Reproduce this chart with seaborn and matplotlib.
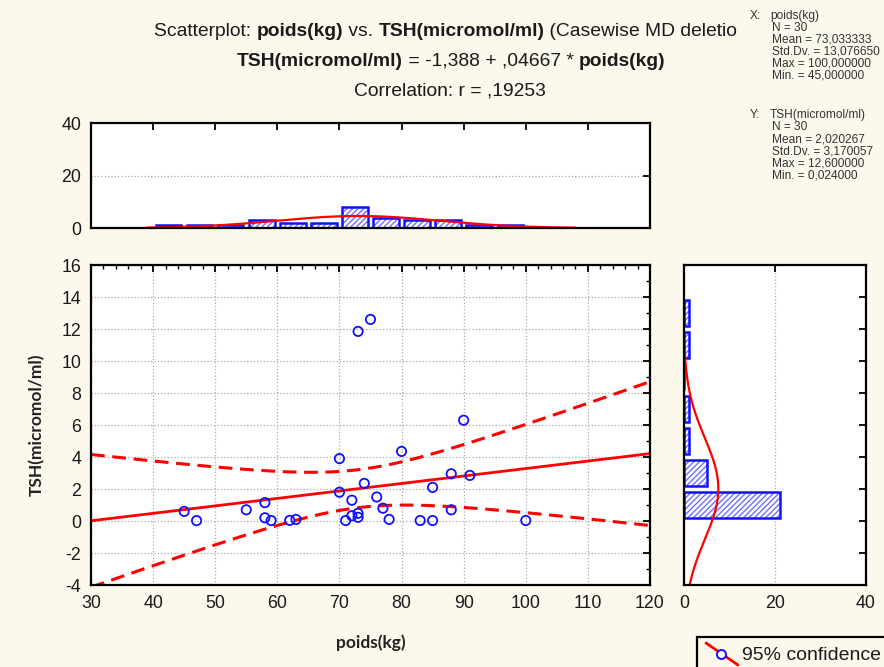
import numpy as np
import matplotlib
matplotlib.use("Agg")
import matplotlib.pyplot as plt
import seaborn as sns
from matplotlib.patches import Rectangle
from matplotlib.lines import Line2D
from matplotlib.ticker import MultipleLocator, NullFormatter

# ---- data -------------------------------------------------------------
poids = [45, 47, 55, 58, 58, 59, 62, 63, 70, 70, 71, 72, 72, 73, 73,
         73, 75, 74, 76, 77, 78, 80, 83, 85, 85, 88, 88, 90, 91, 100]
tsh = [0.6, 0.024, 0.7, 1.15, 0.2, 0.03, 0.04, 0.1, 3.9, 1.8, 0.03, 1.3, 0.33, 0.23, 0.48,
       11.85, 12.6, 2.35, 1.5, 0.8, 0.1, 4.35, 0.03, 0.03, 2.1, 2.95, 0.7, 6.3, 2.85, 0.03]

intercept = -1.388
slope = 0.04667
corr_r = ",19253"

x_stats = ["N = 30", "Mean = 73,033333", "Std.Dv. = 13,076650",
           "Max = 100,000000", "Min. = 45,000000"]
y_stats = ["N = 30", "Mean = 2,020267", "Std.Dv. = 3,170057",
           "Max = 12,600000", "Min. = 0,024000"]
x_mean, x_sd = 73.033333, 13.07665
y_mean, y_sd = 2.020267, 3.170057

x_ticks = list(range(30, 121, 10))
y_ticks = list(range(-4, 17, 2))

# ---- style ------------------------------------------------------------
sns.set_theme(style="white")
CREAM = "#FCF8EC"
BLUE = "#1010FF"
RED = "#FF0000"
GRID = "#AAAAAA"
TICK_FONT = ["Liberation Sans", "DejaVu Sans"]
LABEL_FONT = ["Lato", "Liberation Sans", "DejaVu Sans"]
plt.rcParams["font.family"] = TICK_FONT
plt.rcParams["axes.unicode_minus"] = False
plt.rcParams["hatch.linewidth"] = 1.0

W, H = 884, 667
fig = plt.figure(figsize=(W / 100, H / 100), dpi=100, facecolor=CREAM)


def px_axes(x0, y0, x1, y1):
    return fig.add_axes([x0 / W, 1 - y1 / H, (x1 - x0) / W, (y1 - y0) / H])


ax_main = px_axes(91, 265, 650, 585)
ax_top = px_axes(91, 123, 650, 228)
ax_right = px_axes(684, 265, 866, 585)

for ax in (ax_main, ax_top, ax_right):
    ax.set_facecolor("white")
    for sp in ax.spines.values():
        sp.set_color("black")
        sp.set_linewidth(1.6)
    ax.tick_params(which="both", direction="in", top=True, right=True,
                   colors="black", labelcolor="#1a1a1a", labelsize=12.8, pad=7)
    ax.tick_params(which="major", length=5, width=1.3)
    ax.tick_params(which="minor", length=3, width=1.0)

# ---- main scatter with regression line and 95% band ------------------
x_arr = np.asarray(poids, float)
y_arr = np.asarray(tsh, float)
n = len(x_arr)
resid = y_arr - (intercept + slope * x_arr)
s_err = np.sqrt(np.sum(resid ** 2) / (n - 2))
sxx = np.sum((x_arr - x_arr.mean()) ** 2)
t_crit = 2.0484  # t(0.975, 28)

xs = np.linspace(30, 120, 200)
fit = intercept + slope * xs
half = t_crit * s_err * np.sqrt(1 / n + (xs - x_arr.mean()) ** 2 / sxx)

sns.lineplot(x=xs, y=fit, color=RED, lw=2.0, ax=ax_main)
sns.lineplot(x=xs, y=fit + half, color=RED, lw=2.2, linestyle=(0, (4.5, 2.5)), ax=ax_main)
sns.lineplot(x=xs, y=fit - half, color=RED, lw=2.2, linestyle=(0, (4.5, 2.5)), ax=ax_main)

sns.scatterplot(x=poids, y=tsh, ax=ax_main, s=45, zorder=5)
pts = ax_main.collections[-1]
pts.set_facecolor("none")
pts.set_edgecolor(BLUE)
pts.set_linewidth(1.3)

ax_main.set_xlim(30, 120)
ax_main.set_ylim(-4, 16)
ax_main.set_xticks(x_ticks)
ax_main.set_yticks(y_ticks)
ax_main.xaxis.set_minor_locator(MultipleLocator(2))
ax_main.yaxis.set_minor_locator(MultipleLocator(1))
ax_main.grid(True, which="major", color=GRID, linestyle=":", linewidth=0.9)
ax_main.set_axisbelow(True)
ax_main.set_xlabel("poids(kg)", fontsize=12.5, fontweight="bold",
                   family=LABEL_FONT, labelpad=16, color="#222222")
ax_main.set_ylabel("TSH(micromol/ml)", fontsize=12.5, fontweight="bold",
                   family=LABEL_FONT, labelpad=12, color="#222222")


def hatch_bars(ax):
    for p in ax.patches:
        p.set_facecolor("white")
        p.set_hatch("//////")
        p.set_edgecolor("#7070FF")
        p.set_linewidth(0)


# ---- top marginal histogram (poids) -----------------------------------
x_edges = np.arange(40, 105, 5) + 1e-6
sns.histplot(x=poids, bins=x_edges, shrink=0.82, ax=ax_top, stat="count")
hatch_bars(ax_top)
sns.histplot(x=poids, bins=x_edges, shrink=0.82, ax=ax_top, stat="count",
             fill=False, color=BLUE, linewidth=1.8)
xn = np.linspace(39, 108, 200)
yn = n * 5 * np.exp(-0.5 * ((xn - x_mean) / x_sd) ** 2) / (x_sd * np.sqrt(2 * np.pi))
sns.lineplot(x=xn, y=yn, color=RED, lw=1.6, ax=ax_top)
ax_top.set_xlim(30, 120)
ax_top.set_ylim(0, 40)
ax_top.set_yticks([0, 20, 40])
ax_top.set_xticks(list(range(40, 111, 10)))
ax_top.xaxis.set_major_formatter(NullFormatter())
ax_top.grid(True, axis="y", color=GRID, linestyle=":", linewidth=0.9)
ax_top.set_axisbelow(True)
ax_top.set_xlabel("")
ax_top.set_ylabel("")

# ---- right marginal histogram (TSH) -----------------------------------
y_edges = np.arange(0, 16, 2)
sns.histplot(y=tsh, bins=y_edges, shrink=0.8, ax=ax_right, stat="count")
hatch_bars(ax_right)
sns.histplot(y=tsh, bins=y_edges, shrink=0.8, ax=ax_right, stat="count",
             fill=False, color=BLUE, linewidth=1.8)
yv = np.linspace(-4, 10.5, 200)
xv = n * 2 * np.exp(-0.5 * ((yv - y_mean) / y_sd) ** 2) / (y_sd * np.sqrt(2 * np.pi))
sns.lineplot(x=xv, y=yv, sort=False, estimator=None, color=RED, lw=1.6, ax=ax_right)
ax_right.set_xlim(0, 40)
ax_right.set_ylim(-4, 16)
ax_right.set_xticks([0, 20, 40])
ax_right.set_yticks(y_ticks)
ax_right.yaxis.set_major_formatter(NullFormatter())
ax_right.tick_params(axis="y", which="both", left=False)
ax_right.grid(True, axis="x", color=GRID, linestyle=":", linewidth=0.9)
ax_right.set_axisbelow(True)
ax_right.set_xlabel("")
ax_right.set_ylabel("")

# ---- titles with mixed weights ----------------------------------------
TITLE_FONT = ["Liberation Sans", "DejaVu Sans"]
renderer = fig.canvas.get_renderer()


def seg_width(text, size, weight):
    probe = fig.text(0, 0, "|" + text + "|", fontsize=size, fontweight=weight, family=TITLE_FONT)
    bar = fig.text(0, 0, "||", fontsize=size, fontweight=weight, family=TITLE_FONT)
    w = probe.get_window_extent(renderer).width - bar.get_window_extent(renderer).width
    probe.remove()
    bar.remove()
    return w


def rich_line(segments, cx, cy, size=13.9):
    widths = [seg_width(s, size, w) for s, w in segments]
    x = cx - sum(widths) / 2
    for (s, w), wd in zip(segments, widths):
        fig.text(x / W, 1 - cy / H, s, fontsize=size, fontweight=w,
                 family=TITLE_FONT, va="center", ha="left", color="#1a1a1a")
        x += wd


rich_line([("Scatterplot: ", "normal"), ("poids(kg)", "bold"), (" vs. ", "normal"),
           ("TSH(micromol/ml)", "bold"), (" (Casewise MD deletion", "normal")], 451, 32)
rich_line([("TSH(micromol/ml)", "bold"), (" = -1,388 + ,04667 * ", "normal"),
           ("poids(kg)", "bold")], 451, 61)
rich_line([("Correlation: r = " + corr_r, "normal")], 450, 91)

# panel of descriptive statistics sits over the end of the first title line
fig.patches.append(Rectangle((737 / W, 1 - 48 / H), (W - 737) / W, 48 / H,
                             transform=fig.transFigure, facecolor=CREAM,
                             edgecolor="none", zorder=4))
STAT_FONT = ["Liberation Sans", "DejaVu Sans"]


def stats_block(tag, name, lines, y0):
    fig.text(750 / W, 1 - y0 / H, tag, fontsize=8.6, family=STAT_FONT,
             va="center", color="#333333", zorder=5)
    fig.text(770 / W, 1 - y0 / H, name, fontsize=8.6, family=STAT_FONT,
             va="center", color="#333333", zorder=5)
    for i, line in enumerate(lines):
        fig.text(772 / W, 1 - (y0 + 12 * (i + 1)) / H, line, fontsize=8.6,
                 family=STAT_FONT, va="center", color="#333333", zorder=5)


stats_block("X:", "poids(kg)", x_stats, 16)
stats_block("Y:", "TSH(micromol/ml)", y_stats, 115)

# ---- legend box (runs off the lower-right corner) ---------------------
fig.patches.append(Rectangle((697 / W, 1 - 700 / H), 220 / W, 63 / H,
                             transform=fig.transFigure, facecolor=CREAM,
                             edgecolor="black", linewidth=1.6, zorder=4))
fig.lines.append(Line2D([706 / W, 738 / W], [1 - 643 / H, 1 - 665 / H],
                        transform=fig.transFigure, color=RED, lw=2, zorder=5))
fig.lines.append(Line2D([721 / W], [1 - 654 / H], transform=fig.transFigure,
                        marker="o", markersize=6.5, markerfacecolor="white",
                        markeredgecolor=BLUE, markeredgewidth=1.4, zorder=6))
fig.text(742 / W, 1 - 655 / H, "95% confidence", fontsize=14, family=TICK_FONT,
         va="center", color="#1a1a1a", zorder=6)

fig.savefig("out.png", dpi=100, facecolor=CREAM)
